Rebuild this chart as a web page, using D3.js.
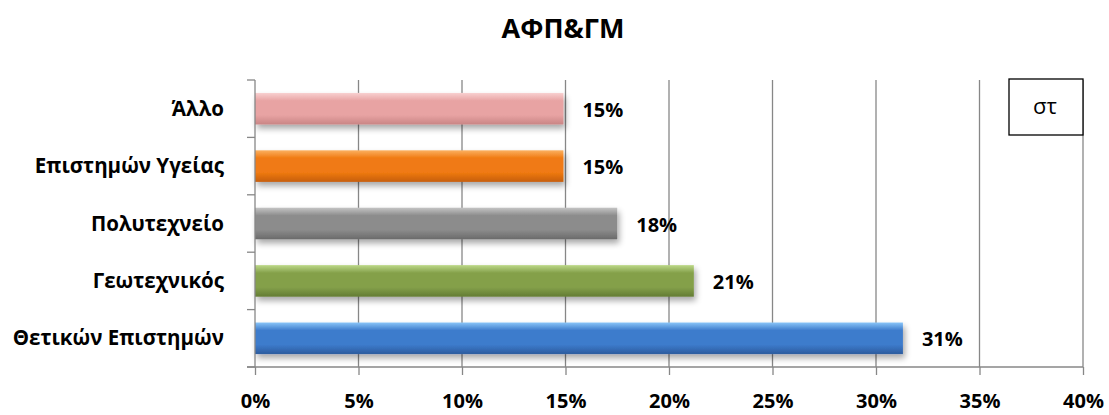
<!DOCTYPE html>
<html><head><meta charset="utf-8">
<script src="https://cdn.jsdelivr.net/npm/d3@7"></script>
<style>body{margin:0;background:#fff}svg{display:block}</style>
</head><body>
<script>
const categories = ["Άλλο","Επιστημών Υγείας","Πολυτεχνείο","Γεωτεχνικός","Θετικών Επιστημών"];
const values = [14.9, 14.9, 17.5, 21.2, 31.3];
const labels = ["15%","15%","18%","21%","31%"];
const colors = ["#e8a3a3","#f07a12","#8c8c8c","#84a04a","#3d7bcc"];
const lights = ["#f8d0d0","#fbb060","#c4c4c4","#bcd888","#88c4f8"];
const darks  = ["#c98585","#c65e08","#6a6a6a","#637c34","#2c5c9e"];
const xTicks = [0,5,10,15,20,25,30,35,40];
const title = "ΑΦΠ&ΓΜ";
const boxText = "στ";

const W=1109,H=415;
const svg=d3.select("body").append("svg").attr("width",W).attr("height",H);
const font="'Open Sans', 'Liberation Sans', sans-serif";
const m={l:255,r:1083,t:80,b:367};
const x=d3.scaleLinear().domain([0,40]).range([m.l,m.r]);
const y=d3.scaleBand().domain(categories).range([m.t,m.b]).paddingInner(0.45).paddingOuter(0.225);

const defs=svg.append("defs");
const f=defs.append("filter").attr("id","sh").attr("x","-5%").attr("y","-30%").attr("width","115%").attr("height","190%");
f.append("feGaussianBlur").attr("in","SourceAlpha").attr("stdDeviation",3);
f.append("feOffset").attr("dx",2).attr("dy",4).attr("result","b");
f.append("feComponentTransfer").append("feFuncA").attr("type","linear").attr("slope",0.35);
const fm=f.append("feMerge");fm.append("feMergeNode");fm.append("feMergeNode").attr("in","SourceGraphic");
colors.forEach((c,i)=>{
  const g=defs.append("linearGradient").attr("id","g"+i).attr("x1",0).attr("y1",0).attr("x2",0).attr("y2",1);
  [[0,lights[i]],[0.25,c],[0.7,c],[1,darks[i]]].forEach(s=>g.append("stop").attr("offset",s[0]).attr("stop-color",s[1]));
});

// title
svg.append("text").attr("x",563).attr("y",38).attr("text-anchor","middle")
  .attr("font-family",font).attr("font-weight","bold").attr("font-size",27).text(title);

// gridlines
svg.append("g").selectAll("line").data(xTicks.slice(1)).join("line")
  .attr("x1",d=>x(d)).attr("x2",d=>x(d)).attr("y1",m.t).attr("y2",m.b)
  .attr("stroke","#878787").attr("stroke-width",1.3);

// bars
svg.append("g").selectAll("rect").data(categories).join("rect")
  .attr("x",x(0)).attr("y",d=>y(d)).attr("height",y.bandwidth())
  .attr("width",(d,i)=>x(values[i])-x(0))
  .attr("fill",(d,i)=>"url(#g"+i+")").attr("filter","url(#sh)");

// x axis
const xa=svg.append("g").attr("transform",`translate(0,${m.b})`)
  .call(d3.axisBottom(x).tickValues(xTicks).tickSize(8).tickFormat(d=>d+"%"));
xa.select(".domain").attr("stroke","#878787").attr("stroke-width",1.3).attr("d",`M${m.l-8},0H${m.r}`);
xa.selectAll(".tick line").attr("stroke","#878787").attr("stroke-width",1.3);
xa.selectAll("text").attr("font-family",font).attr("font-weight","bold").attr("font-size",20).attr("fill","#000").attr("dy",0).attr("y",41);

// y axis
const ya=svg.append("g").attr("transform",`translate(${m.l},0)`)
  .call(d3.axisLeft(y).tickSize(0).tickPadding(31));
ya.select(".domain").attr("stroke","#878787").attr("stroke-width",1.3).attr("d",`M0,${m.t}V${m.b}`);
ya.selectAll("text").attr("font-family",font).attr("font-weight","bold").attr("font-size",20.5).attr("fill","#000").attr("dy","0.35em");
const step=(m.b-m.t)/categories.length;
svg.append("g").selectAll("line").data(d3.range(categories.length+1)).join("line")
  .attr("x1",m.l-8).attr("x2",m.l).attr("y1",d=>m.t+d*step).attr("y2",d=>m.t+d*step)
  .attr("stroke","#878787").attr("stroke-width",1.3);

// value labels
svg.append("g").selectAll("text").data(categories).join("text")
  .attr("x",(d,i)=>x(values[i])+19).attr("y",d=>y(d)+y.bandwidth()/2+8)
  .attr("font-family",font).attr("font-weight","bold").attr("font-size",20)
  .text((d,i)=>labels[i]);

// box
svg.append("rect").attr("x",1009).attr("y",79).attr("width",74).attr("height",56)
  .attr("fill","#fff").attr("stroke","#000").attr("stroke-width",1.3);
svg.append("text").attr("x",1045).attr("y",114).attr("text-anchor","middle")
  .attr("font-family",font).attr("font-size",22).text(boxText);
</script>
</body></html>
